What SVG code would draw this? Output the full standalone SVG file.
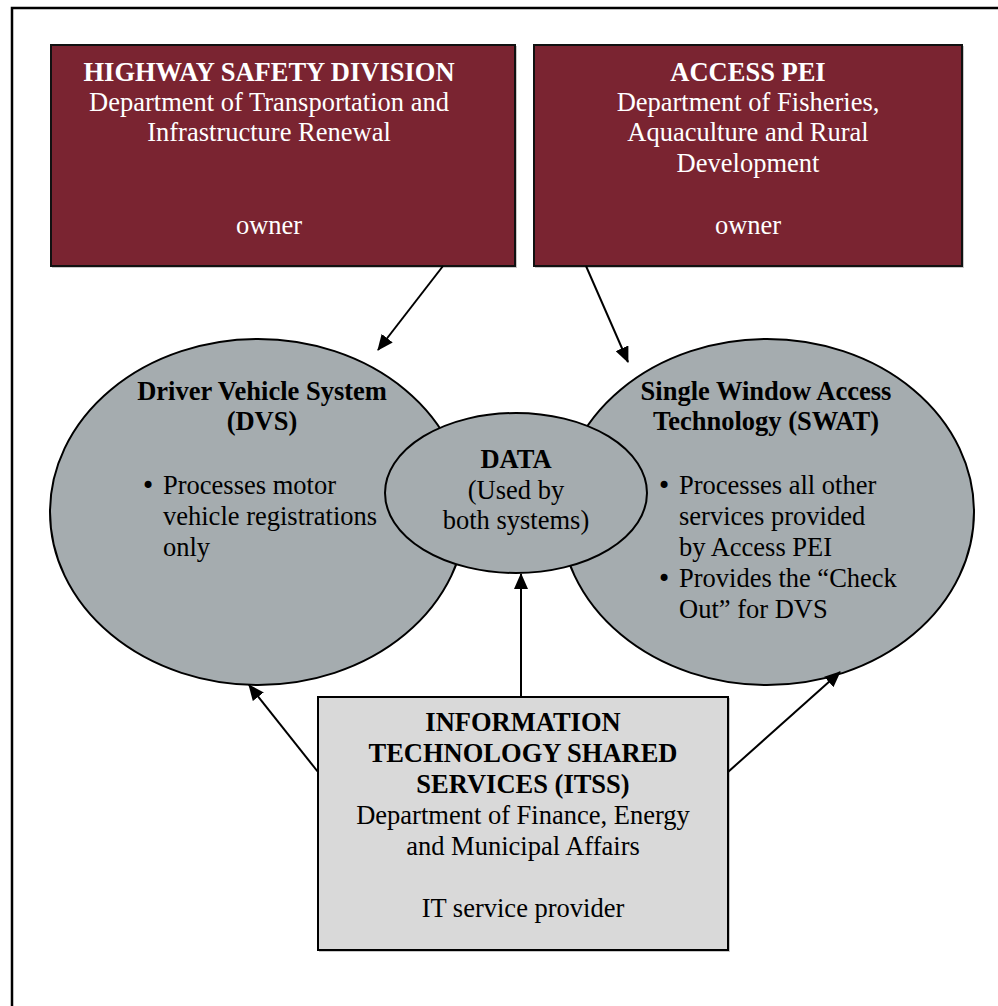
<svg xmlns="http://www.w3.org/2000/svg" width="998" height="1006" viewBox="0 0 998 1006">
  <style>
    text { font-family: "Liberation Serif", "Times New Roman", serif; font-size: 26.5px; }
    .b { font-weight: bold; }
    .w { fill: #ffffff; }
    .k { fill: #000000; }
    .dot { font-family: "DejaVu Sans", sans-serif; font-size: 24px; }
    .owner { fill: #7a2431; stroke: #111; stroke-width: 2; }
    .sys { fill: #a5acaf; stroke: #000; stroke-width: 2; }
    .prov { fill: #d9d9d9; stroke: #000; stroke-width: 2; }
    .shadow { fill: #c8c8c8; }
    .conn line { stroke: #000; stroke-width: 2; marker-end: url(#arrow); }
  </style>
  <defs>
    <marker id="arrow" markerWidth="16" markerHeight="14" refX="15" refY="7" orient="auto" markerUnits="userSpaceOnUse">
      <path d="M0,0 L16,7 L0,14 Z" fill="#000"/>
    </marker>
  </defs>

  <rect width="998" height="1006" fill="#ffffff"/>
  <!-- page frame -->
  <path d="M12,1006 L12,8 L998,8" fill="none" stroke="#000" stroke-width="2.5"/>

  <!-- owner boxes -->
  <g id="highway-safety">
    <rect class="shadow" x="52" y="46" width="465" height="222"/>
    <rect class="owner" x="51" y="45" width="464" height="221"/>
    <text class="w b" x="269" y="81" text-anchor="middle">HIGHWAY SAFETY DIVISION</text>
    <text class="w" x="269" y="111" text-anchor="middle">Department of Transportation and</text>
    <text class="w" x="269" y="141" text-anchor="middle">Infrastructure Renewal</text>
    <text class="w" x="269" y="234" text-anchor="middle">owner</text>
  </g>

  <g id="access-pei">
    <rect class="shadow" x="535" y="46" width="429" height="222"/>
    <rect class="owner" x="534" y="45" width="428" height="221"/>
    <text class="w b" x="748" y="81" text-anchor="middle">ACCESS PEI</text>
    <text class="w" x="748" y="111" text-anchor="middle">Department of Fisheries,</text>
    <text class="w" x="748" y="141" text-anchor="middle">Aquaculture and Rural</text>
    <text class="w" x="748" y="172" text-anchor="middle">Development</text>
    <text class="w" x="748" y="234" text-anchor="middle">owner</text>
  </g>

  <!-- systems -->
  <g id="dvs">
    <ellipse class="sys" cx="258" cy="512" rx="208" ry="173"/>
    <text class="k b" x="262" y="400" text-anchor="middle">Driver Vehicle System</text>
    <text class="k b" x="262" y="430" text-anchor="middle">(DVS)</text>
    <text class="k dot" x="141" y="494">•</text>
    <text class="k" x="163" y="494">Processes motor</text>
    <text class="k" x="163" y="525">vehicle registrations</text>
    <text class="k" x="163" y="556">only</text>
  </g>

  <g id="swat">
    <ellipse class="sys" cx="767" cy="512" rx="207" ry="173"/>
    <text class="k b" x="766" y="400" text-anchor="middle">Single Window Access</text>
    <text class="k b" x="766" y="430" text-anchor="middle">Technology (SWAT)</text>
    <text class="k dot" x="657" y="494">•</text>
    <text class="k" x="679" y="494">Processes all other</text>
    <text class="k" x="679" y="525">services provided</text>
    <text class="k" x="679" y="556">by Access PEI</text>
    <text class="k dot" x="657" y="587">•</text>
    <text class="k" x="679" y="587">Provides the “Check</text>
    <text class="k" x="679" y="618">Out” for DVS</text>
  </g>

  <g id="data">
    <ellipse class="sys" cx="516" cy="493" rx="131" ry="80"/>
    <text class="k b" x="516" y="468" text-anchor="middle">DATA</text>
    <text class="k" x="516" y="499" text-anchor="middle">(Used by</text>
    <text class="k" x="516" y="529" text-anchor="middle">both systems)</text>
  </g>

  <!-- service provider -->
  <g id="itss">
    <rect class="shadow" x="319" y="698" width="411" height="254"/>
    <rect class="prov" x="318" y="697" width="410" height="253"/>
    <text class="k b" x="523" y="731" text-anchor="middle">INFORMATION</text>
    <text class="k b" x="523" y="762" text-anchor="middle">TECHNOLOGY SHARED</text>
    <text class="k b" x="523" y="793" text-anchor="middle">SERVICES (ITSS)</text>
    <text class="k" x="523" y="824" text-anchor="middle">Department of Finance, Energy</text>
    <text class="k" x="523" y="855" text-anchor="middle">and Municipal Affairs</text>
    <text class="k" x="523" y="917" text-anchor="middle">IT service provider</text>
  </g>

  <!-- connectors -->
  <g id="connectors" class="conn">
    <line x1="443" y1="266" x2="378" y2="350"/>
    <line x1="586" y1="266" x2="628" y2="362"/>
    <line x1="318" y1="772" x2="249" y2="685"/>
    <line x1="728" y1="772" x2="840" y2="672"/>
    <line x1="521" y1="697" x2="521" y2="574"/>
  </g>
</svg>
